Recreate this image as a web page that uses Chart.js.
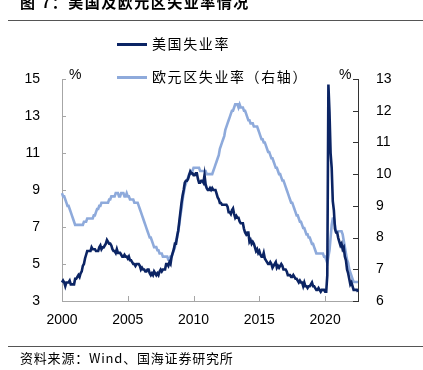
<!DOCTYPE html>
<html>
<head>
<meta charset="utf-8">
<script src="https://cdn.jsdelivr.net/npm/chart.js@4.4.0/dist/chart.umd.min.js"></script>
<style>
  body { margin: 0; background: #fff; width: 423px; height: 370px; overflow: hidden; position: relative; font-family: "Liberation Sans", Arial, sans-serif; }
  #c { position: absolute; left: 0; top: 0; }
  .cjk { font-family: "Noto Sans CJK SC", sans-serif; position: absolute; white-space: nowrap; }
  #title { left: 20px; top: -9px; font-size: 15px; font-weight: bold; letter-spacing: 1.5px; }
  .rule { position: absolute; left: 8px; width: 415px; height: 1px; background: #555; }
  #source { left: 20px; top: 348px; font-size: 13px; letter-spacing: 0.8px; }
  .leg { position: absolute; left: 117px; width: 30px; height: 3px; }
  .legtxt { left: 152px; font-size: 14px; letter-spacing: 1.6px; }
  .pct { position: absolute; font-size: 14px; }
</style>
</head>
<body>
<canvas id="c" width="423" height="370"></canvas>
<div id="title" class="cjk">图 7：美国及欧元区失业率情况</div>
<div class="rule" style="top:20px"></div>
<div class="leg" style="top:43px;background:#0b2464"></div>
<div class="cjk legtxt" style="top:33px">美国失业率</div>
<div class="leg" style="top:76px;background:#8eaadb"></div>
<div class="cjk legtxt" style="top:66px">欧元区失业率（右轴）</div>
<div class="pct" style="left:69px;top:66px">%</div>
<div class="pct" style="left:339px;top:66px">%</div>
<div class="rule" style="top:346px"></div>
<div id="source" class="cjk">资料来源：Wind、国海证券研究所</div>
<script>
// monthly data, Jan 2000 .. Jul 2022
const startYear = 2000;

const usRate = [
  4.0, 4.1, 4.0, 3.8, 4.0, 4.0, 4.0, 4.1, 3.9, 3.9, 3.9, 3.9,
  4.2, 4.2, 4.3, 4.4, 4.3, 4.5, 4.6, 4.9, 5.0, 5.3, 5.5, 5.7,
  5.7, 5.7, 5.7, 5.9, 5.8, 5.8, 5.8, 5.7, 5.7, 5.7, 5.9, 6.0,
  5.8, 5.9, 5.9, 6.0, 6.1, 6.3, 6.2, 6.1, 6.1, 6.0, 5.8, 5.7,
  5.7, 5.6, 5.8, 5.6, 5.6, 5.6, 5.5, 5.4, 5.4, 5.5, 5.4, 5.4,
  5.3, 5.4, 5.2, 5.2, 5.1, 5.0, 5.0, 4.9, 5.0, 5.0, 5.0, 4.9,
  4.7, 4.8, 4.7, 4.7, 4.6, 4.6, 4.7, 4.7, 4.5, 4.4, 4.5, 4.4,
  4.6, 4.5, 4.4, 4.5, 4.4, 4.6, 4.7, 4.6, 4.7, 4.7, 4.7, 5.0,
  5.0, 4.9, 5.1, 5.0, 5.4, 5.6, 5.8, 6.1, 6.1, 6.5, 6.8, 7.3,
  7.8, 8.3, 8.7, 9.0, 9.4, 9.5, 9.5, 9.6, 9.8, 10.0, 9.9, 9.9,
  9.8, 9.8, 9.9, 9.9, 9.6, 9.4, 9.4, 9.5, 9.5, 9.4, 9.8, 9.3,
  9.1, 9.0, 9.0, 9.1, 9.0, 9.1, 9.0, 9.0, 9.0, 8.8, 8.6, 8.5,
  8.3, 8.3, 8.2, 8.2, 8.2, 8.2, 8.2, 8.1, 7.8, 7.8, 7.7, 7.9,
  8.0, 7.7, 7.5, 7.6, 7.5, 7.5, 7.3, 7.2, 7.2, 7.2, 6.9, 6.7,
  6.6, 6.7, 6.7, 6.2, 6.3, 6.1, 6.2, 6.1, 5.9, 5.7, 5.8, 5.6,
  5.7, 5.5, 5.4, 5.4, 5.6, 5.3, 5.2, 5.1, 5.0, 5.0, 5.1, 5.0,
  4.8, 4.9, 5.0, 5.1, 4.8, 4.9, 4.8, 4.9, 5.0, 4.9, 4.7, 4.7,
  4.7, 4.6, 4.4, 4.4, 4.4, 4.3, 4.3, 4.4, 4.3, 4.2, 4.2, 4.1,
  4.0, 4.1, 4.0, 4.0, 3.8, 4.0, 3.8, 3.8, 3.7, 3.8, 3.8, 3.9,
  4.0, 3.8, 3.8, 3.7, 3.6, 3.6, 3.7, 3.6, 3.5, 3.6, 3.6, 3.6,
  3.5, 3.5, 4.4, 14.7, 13.2, 11.0, 10.2, 8.4, 7.9, 6.9, 6.7, 6.7,
  6.4, 6.2, 6.0, 6.1, 5.8, 5.9, 5.4, 5.2, 4.7, 4.5, 4.2, 3.9,
  4.0, 3.8, 3.6, 3.6, 3.6, 3.6, 3.5
];

const euroRate = [
  9.4, 9.3, 9.3, 9.2, 9.1, 9.0, 9.0, 8.9, 8.8, 8.7, 8.6, 8.5,
  8.4, 8.4, 8.4, 8.4, 8.4, 8.4, 8.4, 8.4, 8.5, 8.5, 8.5, 8.6,
  8.6, 8.6, 8.6, 8.6, 8.6, 8.7, 8.7, 8.8, 8.9, 8.9, 9.0, 9.0,
  9.1, 9.1, 9.1, 9.1, 9.1, 9.1, 9.1, 9.2, 9.2, 9.3, 9.3, 9.3,
  9.3, 9.4, 9.4, 9.4, 9.3, 9.3, 9.4, 9.4, 9.4, 9.3, 9.3, 9.4,
  9.3, 9.3, 9.2, 9.2, 9.2, 9.2, 9.1, 9.1, 9.1, 9.1, 9.0, 8.9,
  8.8, 8.7, 8.6, 8.5, 8.4, 8.3, 8.2, 8.1, 8.0, 8.0, 7.9, 7.8,
  7.7, 7.7, 7.7, 7.6, 7.6, 7.5, 7.5, 7.5, 7.4, 7.4, 7.4, 7.4,
  7.4, 7.3, 7.3, 7.4, 7.4, 7.5, 7.6, 7.7, 7.9, 8.0, 8.2, 8.4,
  8.7, 8.9, 9.2, 9.4, 9.6, 9.7, 9.8, 9.9, 10.0, 10.0, 10.1, 10.1,
  10.2, 10.2, 10.2, 10.2, 10.2, 10.2, 10.1, 10.1, 10.1, 10.1, 10.1, 10.1,
  10.0, 10.0, 10.0, 10.0, 10.0, 10.0, 10.1, 10.2, 10.3, 10.4, 10.5, 10.6,
  10.8, 10.9, 11.0, 11.1, 11.2, 11.4, 11.5, 11.6, 11.7, 11.8, 11.9, 12.0,
  12.0, 12.1, 12.2, 12.2, 12.2, 12.1, 12.2, 12.1, 12.1, 12.1, 12.0, 12.0,
  11.9, 11.8, 11.7, 11.7, 11.6, 11.6, 11.6, 11.5, 11.5, 11.5, 11.5, 11.4,
  11.3, 11.2, 11.1, 11.1, 11.0, 11.0, 10.9, 10.8, 10.7, 10.7, 10.6, 10.5,
  10.5, 10.4, 10.3, 10.2, 10.2, 10.1, 10.0, 10.0, 9.9, 9.8, 9.8, 9.7,
  9.6, 9.5, 9.4, 9.3, 9.2, 9.1, 9.1, 9.0, 8.9, 8.8, 8.7, 8.7,
  8.6, 8.5, 8.5, 8.4, 8.3, 8.3, 8.2, 8.1, 8.1, 8.0, 8.0, 7.9,
  7.8, 7.8, 7.7, 7.6, 7.5, 7.5, 7.5, 7.5, 7.5, 7.5, 7.5, 7.4,
  7.4, 7.3, 7.2, 7.4, 7.6, 8.0, 8.4, 8.6, 8.6, 8.4, 8.2, 8.2,
  8.2, 8.2, 8.2, 8.2, 8.1, 7.9, 7.7, 7.5, 7.3, 7.2, 7.0, 6.9,
  6.8, 6.7, 6.6, 6.6, 6.6, 6.6, 6.6
];

const yearTicks = [2000, 2005, 2010, 2015, 2020];
const leftTicks = [3, 5, 7, 9, 11, 13, 15];
const rightTicks = [6, 7, 8, 9, 10, 11, 12, 13];

const months = usRate.map((_, i) => {
  const y = startYear + Math.floor(i / 12);
  const m = (i % 12) + 1;
  return y + "-" + (m < 10 ? "0" + m : m);
});

const numFont = { family: "'Liberation Sans', Arial, sans-serif", size: 14 };

// short inward tick marks like the original
const innerTicks = {
  id: "innerTicks",
  afterDraw(chart) {
    const ctx = chart.ctx;
    const a = chart.chartArea;
    ctx.save();
    ctx.lineWidth = 1;
    ctx.strokeStyle = "#a6a6a6";
    chart.scales.y.ticks.forEach(t => {
      const py = Math.round(chart.scales.y.getPixelForValue(t.value)) + 0.5;
      ctx.beginPath(); ctx.moveTo(a.left, py); ctx.lineTo(a.left + 4, py); ctx.stroke();
    });
    chart.scales.x.ticks.forEach(t => {
      const px = Math.round(chart.scales.x.getPixelForValue(t.value)) + 0.5;
      ctx.beginPath(); ctx.moveTo(px, a.bottom); ctx.lineTo(px, a.bottom - 5); ctx.stroke();
    });
    ctx.strokeStyle = "#333";
    chart.scales.y1.ticks.forEach(t => {
      const py = Math.round(chart.scales.y1.getPixelForValue(t.value)) + 0.5;
      ctx.beginPath(); ctx.moveTo(a.right, py); ctx.lineTo(a.right - 5, py); ctx.stroke();
    });
    ctx.restore();
  }
};

new Chart(document.getElementById("c").getContext("2d"), {
  type: "line",
  data: {
    labels: months,
    datasets: [
      {
        label: "美国失业率",
        data: usRate,
        yAxisID: "y",
        borderColor: "#0b2464",
        borderWidth: 2.6,
        pointRadius: 0,
        tension: 0
      },
      {
        label: "欧元区失业率（右轴）",
        data: euroRate,
        yAxisID: "y1",
        borderColor: "#8eaadb",
        borderWidth: 2.6,
        pointRadius: 0,
        tension: 0
      }
    ]
  },
  options: {
    responsive: false,
    animation: false,
    devicePixelRatio: 1,
    layout: { padding: { top: 79, left: 0, right: 0, bottom: 0 } },
    plugins: { legend: { display: false }, tooltip: { enabled: false } },
    scales: {
      x: {
        type: "category",
        grid: { display: false },
        border: { display: true, color: "#a6a6a6" },
        afterBuildTicks: s => {
          s.ticks = s.ticks.filter(t => yearTicks.includes(+months[t.value].slice(0, 4)) && months[t.value].endsWith("-01"));
        },
        afterFit: s => { s.height = 69; },
        ticks: {
          autoSkip: false,
          maxRotation: 0,
          padding: 3,
          color: "#000",
          font: numFont,
          callback: function (v) { return this.getLabelForValue(v).slice(0, 4); }
        }
      },
      y: {
        position: "left",
        min: 3,
        max: 15,
        afterBuildTicks: s => { s.ticks = leftTicks.map(v => ({ value: v })); },
        afterFit: s => { s.width = 62; },
        grid: { display: false },
        border: { display: true, color: "#a6a6a6" },
        ticks: { padding: 14, color: "#000", font: numFont }
      },
      y1: {
        position: "right",
        min: 6,
        max: 13,
        afterBuildTicks: s => { s.ticks = rightTicks.map(v => ({ value: v })); },
        afterFit: s => { s.width = 65; },
        grid: { display: false },
        border: { display: true, color: "#333" },
        ticks: { padding: 10, color: "#000", font: numFont }
      }
    }
  },
  plugins: [innerTicks]
});
</script>
</body>
</html>
